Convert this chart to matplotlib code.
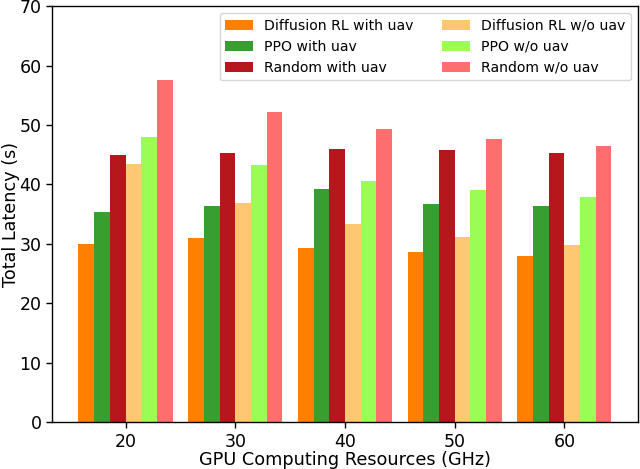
import numpy as np
import matplotlib
matplotlib.use("Agg")
import matplotlib.pyplot as plt

# GPU resources (GHz)
gpu = ["20", "30", "40", "50", "60"]

diff_uav = [29.9, 31.0, 29.3, 28.6, 28.0]
ppo_uav = [35.4, 36.3, 39.3, 36.7, 36.4]
rand_uav = [45.0, 45.2, 45.9, 45.8, 45.3]
diff_nouav = [43.5, 36.8, 33.3, 31.1, 29.8]
ppo_nouav = [47.9, 43.2, 40.6, 39.0, 37.9]
rand_nouav = [57.6, 52.2, 49.4, 47.7, 46.5]

labels = ["Diffusion RL with uav", "PPO with uav", "Random with uav",
          "Diffusion RL w/o uav", "PPO w/o uav", "Random w/o uav"]
colors = ["#ff7f00", "#379e2f", "#b5171c", "#fec872", "#9cfc56", "#fe6e6e"]

series = [diff_uav, ppo_uav, rand_uav, diff_nouav, ppo_nouav, rand_nouav]

fig, ax = plt.subplots(figsize=(6.4, 4.69), dpi=100)
x = np.arange(len(gpu))
w = 0.143
for i, (vals, lab, c) in enumerate(zip(series, labels, colors)):
    ax.bar(x + (i - 2.5) * w, vals, w, label=lab, color=c)

ax.set_xticks(x)
ax.set_xticklabels(gpu)
ax.tick_params(labelsize=12.5, length=4.5, width=1, pad=3)
for s in ax.spines.values():
    s.set_linewidth(1)
ax.set_ylim(0, 70)
ax.set_xlabel("GPU Computing Resources (GHz)", fontsize=12.7, labelpad=0)
ax.set_ylabel("Total Latency (s)", fontsize=12.7)
ax.yaxis.set_label_coords(-0.055, 0.5)
ax.legend(ncol=2, loc="upper right", fontsize=10.1)

fig.subplots_adjust(left=0.081, right=0.997, top=0.987, bottom=0.1)
fig.savefig("out.png", dpi=100)
